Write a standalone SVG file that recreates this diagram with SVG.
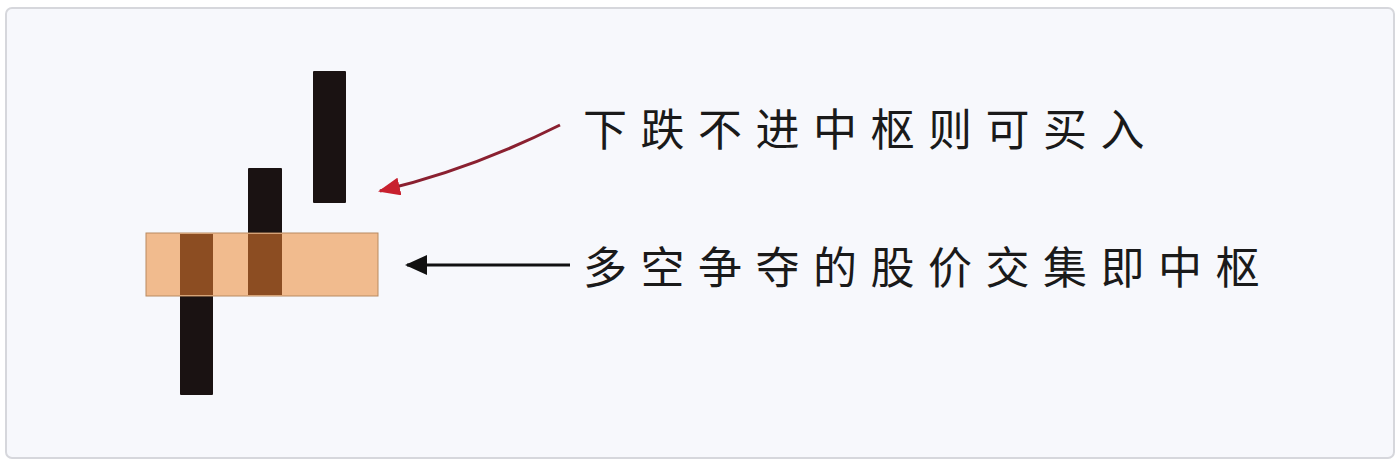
<svg xmlns="http://www.w3.org/2000/svg" width="1400" height="464" viewBox="0 0 1400 464">
<style>
.bar{fill:#1a1212}
.ov{fill:#8c4d22}
.lbl{font-family:"Noto Sans CJK SC",sans-serif;font-size:44px;fill:#1a1a1a;letter-spacing:13.5px}
</style>
<defs>
<marker id="ab" markerWidth="22" markerHeight="20" refX="20" refY="10" orient="auto" markerUnits="userSpaceOnUse"><path d="M0,0L22,10L0,20z" fill="#111"/></marker>
<marker id="arr" markerWidth="22" markerHeight="18" refX="20" refY="9" orient="auto" markerUnits="userSpaceOnUse"><path d="M0,0L22,9L0,18z" fill="#c8202e"/></marker>
</defs>
<rect x="0" y="0" width="1400" height="464" fill="#fff"/>
<rect x="6" y="8" width="1388" height="450" rx="6" fill="#f7f8fc" stroke="#d6d7dc" stroke-width="2"/>
<g id="candles">
<rect class="bar" x="313" y="71" width="33" height="132" rx="1"/>
<rect class="bar" x="248" y="168" width="34" height="128" rx="1"/>
<rect class="bar" x="180" y="233" width="33" height="162" rx="1"/>
</g>
<g id="zone">
<rect x="146" y="233" width="232" height="63" fill="#f1bb8e" stroke="#b98a60" stroke-width="1"/>
<rect class="ov" x="180" y="234" width="33" height="61"/>
<rect class="ov" x="248" y="234" width="34" height="61"/>
</g>
<g id="connectors">
<path d="M560,125 Q470,170 380,191" fill="none" stroke="#8a2030" stroke-width="3" marker-end="url(#arr)"/>
<line x1="570" y1="265" x2="407" y2="265" stroke="#111" stroke-width="3" marker-end="url(#ab)"/>
</g>
<g id="label1"><text class="lbl" x="583" y="146">下跌不进中枢则可买入</text></g>
<g id="label2"><text class="lbl" x="583" y="284">多空争夺的股价交集即中枢</text></g>
</svg>
